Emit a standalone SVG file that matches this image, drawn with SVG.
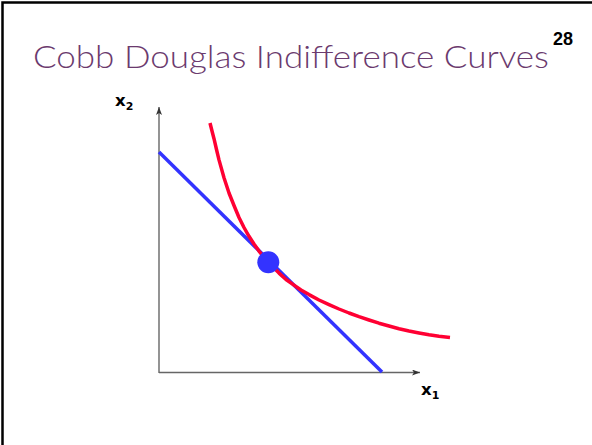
<svg xmlns="http://www.w3.org/2000/svg" width="592" height="445" viewBox="0 0 592 445">
  <defs>
    <marker id="arr" viewBox="0 0 8 6" refX="8" refY="3" markerWidth="8" markerHeight="6" markerUnits="userSpaceOnUse" orient="auto">
      <path d="M0,0 L8,3 L0,6 L2,3 Z" fill="#333"/>
    </marker>
    <style>
      .title { font-family: "Lato", "Open Sans", "Liberation Sans", sans-serif; font-weight: 300; font-size: 31px; fill: #6b3a6e; }
      .num { font-family: "Liberation Sans", Arial, sans-serif; font-size: 18px; font-weight: bold; fill: #000; }
      .lbl { font-family: "DejaVu Sans", "Liberation Sans", sans-serif; font-size: 16.5px; font-weight: bold; fill: #000; }
      .sub { font-size: 11px; }
      .axis { stroke: #666; stroke-width: 1.4; fill: none; }
      .budget { stroke: #3333ff; stroke-width: 3.5; fill: none; }
      .ic { stroke: #ff0033; stroke-width: 3.5; fill: none; stroke-linejoin: round; stroke-linecap: butt; }
    </style>
  </defs>
  <rect width="592" height="445" fill="#fff"/>
  <path d="M2.5,445 V2.5 H592" stroke="#000" stroke-width="2.5" fill="none"/>
  <text class="title" x="33" y="68" textLength="516" lengthAdjust="spacingAndGlyphs">Cobb Douglas Indifference Curves</text>
  <text class="num" x="553" y="45">28</text>

  <g id="connectors">
    <line id="y-axis" class="axis" x1="159" y1="373" x2="159" y2="107" marker-end="url(#arr)"/>
    <line id="x-axis" class="axis" x1="159" y1="372.5" x2="420" y2="372.5" marker-end="url(#arr)"/>
    <line id="budget-line" class="budget" x1="159" y1="152" x2="382" y2="372"/>
    <path id="indifference-curve" class="ic" d="M210,123 L212,131 L214,138.7 L216.5,149.5 L219,159.9 L224,177.8 L229,193 L234,205.5 L239,217.5 L244,227.5 L249,236.3 L254,244 L259,251.1 L264,257.4 L269,263.1 L279,273.1 L286,279.5 L294,285.1 L301,290 L309,294.6 L319,300 L329,304.6 L339,309 L349,313 L359,316.7 L369,320 L379,323.2 L389,326 L399,328.7 L409,331 L419,333 L429,334.8 L439,336.3 L450,337.5"/>
  </g>

  <g id="tangency">
    <circle cx="268.3" cy="262.3" r="11" fill="#3333ff"/>
  </g>

  <g id="label-x2">
    <text class="lbl" x="115" y="106">x<tspan class="sub" dy="4">2</tspan></text>
  </g>
  <g id="label-x1">
    <text class="lbl" x="421" y="395">x<tspan class="sub" dy="4">1</tspan></text>
  </g>
</svg>
